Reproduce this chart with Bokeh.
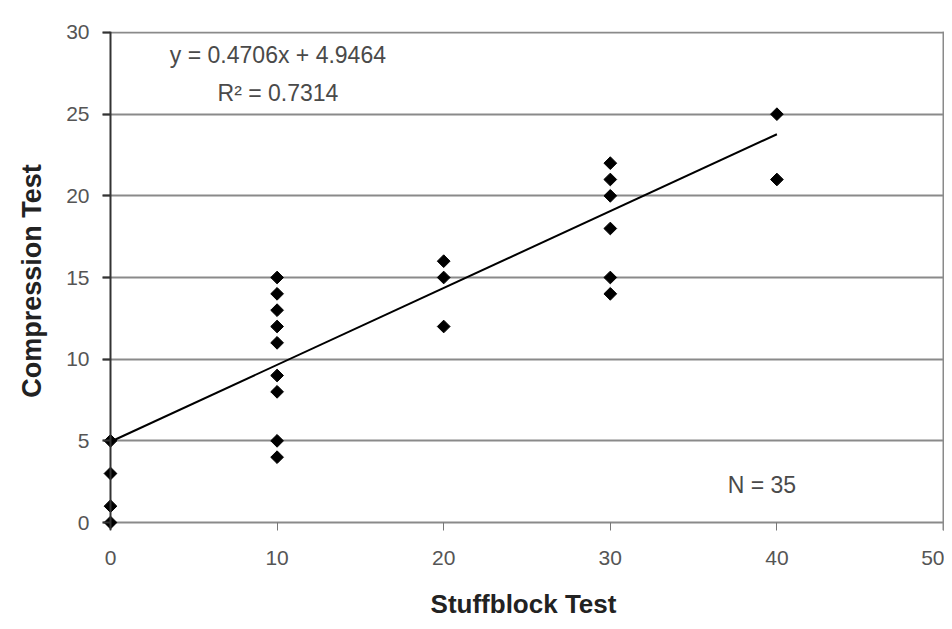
import numpy as np
from bokeh.plotting import figure
from bokeh.models import Range1d, FixedTicker, Label, Span
from bokeh.embed import file_html
from bokeh.resources import INLINE

# Data (distinct visible points)
stuffblock = [0, 0, 0, 0,
              10, 10, 10, 10, 10, 10, 10, 10, 10,
              20, 20, 20,
              30, 30, 30, 30, 30, 30,
              40, 40]
compression = [0, 1, 3, 5,
               4, 5, 8, 9, 11, 12, 13, 14, 15,
               12, 15, 16,
               14, 15, 18, 20, 21, 22,
               21, 25]
slope = 0.4706
intercept = 4.9464
r_squared = 0.7314
n_obs = 35
x_ticks = [0, 10, 20, 30, 40, 50]
y_ticks = [0, 5, 10, 15, 20, 25, 30]

FONT = "Liberation Sans"
GRID = "#8a8a8a"

# small padding below/left of zero so markers on the axes are not clipped
p = figure(width=944, height=621, output_backend="svg", toolbar_location=None,
           x_range=Range1d(-0.48, 50.06), y_range=Range1d(-0.489, 30.061),
           min_border_left=102, min_border_right=0, min_border_top=31, min_border_bottom=90)
p.background_fill_color = "white"
p.border_fill_color = "white"
p.outline_line_color = None

# grid
p.xgrid.visible = False
p.ygrid.ticker = FixedTicker(ticks=y_ticks)
p.ygrid.grid_line_color = GRID
p.ygrid.grid_line_width = 2

# right border and the zero line acting as the y axis line
p.add_layout(Span(location=50, dimension="height", line_color=GRID, line_width=2))
p.add_layout(Span(location=0, dimension="height", line_color="#333333", line_width=2))

# axes (at the frame edges, ticks pointing inward up to the zero lines)
p.xaxis.ticker = FixedTicker(ticks=x_ticks)
p.yaxis.ticker = FixedTicker(ticks=y_ticks)
p.xaxis.minor_tick_line_color = None
p.yaxis.minor_tick_line_color = None
p.xaxis.axis_line_color = None
p.yaxis.axis_line_color = None
p.xaxis.major_tick_line_color = "#777777"
p.xaxis.major_tick_line_width = 1
p.xaxis.major_tick_in = 8
p.xaxis.major_tick_out = 0
p.yaxis.major_tick_line_color = "#333333"
p.yaxis.major_tick_line_width = 2
p.yaxis.major_tick_in = 8
p.yaxis.major_tick_out = 0
for ax in (p.xaxis, p.yaxis):
    ax.major_label_text_font = FONT
    ax.major_label_text_font_size = "21px"
    ax.major_label_text_color = "#555555"
    ax.axis_label_text_font = FONT
    ax.axis_label_text_font_style = "bold"
    ax.axis_label_text_color = "#222222"
p.xaxis.major_label_standoff = 20
p.yaxis.major_label_standoff = 13
p.xaxis.axis_label = "Stuffblock Test"
p.yaxis.axis_label = "Compression Test"
p.xaxis.axis_label_text_font_size = "26px"
p.yaxis.axis_label_text_font_size = "27px"
p.xaxis.axis_label_standoff = 21
p.yaxis.axis_label_standoff = 16

# trend line
xs = np.array([min(stuffblock), max(stuffblock)], dtype=float)
p.line(xs, slope * xs + intercept, line_color="black", line_width=2)

# points
p.scatter(stuffblock, compression, marker="square", angle=np.pi / 4, size=9,
          fill_color="black", line_color="black")

# annotations
for tx, ty, txt in ((10.05, 28.6, f"y = {slope}x + {intercept}"),
                    (10.05, 26.3, f"R² = {r_squared}"),
                    (39.1, 2.3, f"N = {n_obs}")):
    p.add_layout(Label(x=tx, y=ty, text=txt, text_font=FONT, text_font_size="23px",
                       text_color="#4a4a4a", text_align="center", text_baseline="middle"))

open("out.html", "w").write(file_html(p, INLINE))
